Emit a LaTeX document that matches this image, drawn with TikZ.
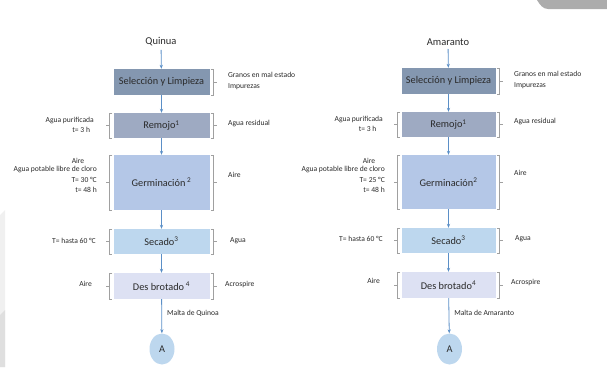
\documentclass[tikz,border=0pt]{standalone}
\usepackage{fontspec}
\setmainfont{Carlito}
\usetikzlibrary{arrows.meta,shapes.geometric,calc}
\definecolor{cA}{HTML}{8497B0}
\definecolor{cB}{HTML}{9EAAC2}
\definecolor{cC}{HTML}{B4C7E7}
\definecolor{cD}{HTML}{BDD7EE}
\definecolor{cE}{HTML}{DDE1F3}
\definecolor{arrc}{HTML}{5B8FC7}
\definecolor{brkc}{HTML}{A0A0A0}
\definecolor{txtc}{HTML}{2A2A2A}
\tikzset{
  procbox/.style={minimum width=96pt, inner sep=0pt, font=\fontsize{10.3}{12}\selectfont, text=txtc},
  ttl/.style={font=\fontsize{10.5}{12}\selectfont, text=txtc},
  side/.style={font=\fontsize{7.6}{9}\selectfont, text=txtc, inner sep=0pt},
  flow/.style={-{Stealth[length=4pt,width=3.2pt]}, draw=arrc, line width=0.8pt},
  brk/.style={draw=brkc, line width=0.5pt},
  endc/.style={ellipse, minimum width=25pt, minimum height=31pt, inner sep=0pt, fill=cD, font=\fontsize{10.3}{12}\selectfont, text=txtc}
}
\newcommand\rbrk[1]{%
  \draw[brk] ([xshift=1pt]#1.north east) -- ++(3,0) -- ([xshift=4pt]#1.south east) -- ++(-3,0);
  \draw[brk] ([xshift=4pt]#1.east) -- ++(3,0);}
\newcommand\lbrk[1]{%
  \draw[brk] ([xshift=-1pt]#1.north west) -- ++(-3,0) -- ([xshift=-4pt]#1.south west) -- ++(3,0);
  \draw[brk] ([xshift=-4pt]#1.west) -- ++(-3,0);}
\begin{document}
\begin{tikzpicture}[x=1pt,y=-1pt]
\useasboundingbox (0,0) rectangle (607,367);
% screenshot artefacts
\fill[gray!65] (537,0) .. controls (540,5) and (543,9) .. (548,9) -- (607,9) -- (607,0) -- cycle;
\fill[gray!12] (0,215) -- (5,210) -- (5,367) -- (0,367) -- cycle;
\fill[gray!25] (0,315) -- (5,310) -- (5,367) -- (0,367) -- cycle;

% ---------- Quinua ----------
\node[ttl] (t1) at (161,42) {Quinua};
\node[procbox, fill=cA, minimum height=26pt] (s1) at (161.5,82) {Selección y Limpieza};
\node[procbox, fill=cB, minimum height=25pt] (r1) at (161.5,125.5) {Remojo\textsuperscript{1}};
\node[procbox, fill=cC, minimum height=55pt] (g1) at (161.5,182.5) {Germinación\,\textsuperscript{2}};
\node[procbox, fill=cD, minimum height=25pt] (c1) at (161.5,241.5) {Secado\textsuperscript{3}};
\node[procbox, fill=cE, minimum height=26pt] (d1) at (161.5,286) {Des brotado\,\textsuperscript{4}};
\node[endc] (a1) at (162,349) {A};

\draw[flow] (t1) -- (s1);
\draw[flow] (s1) -- (r1);
\draw[flow] (r1) -- (g1);
\draw[flow] (g1) -- (c1);
\draw[flow] (c1) -- (d1);
\draw[flow] (d1) -- node[side, right=5pt, pos=0.42] (m1) {Malta de Quinoa} (a1);

\rbrk{s1} \rbrk{r1} \rbrk{g1} \rbrk{c1} \rbrk{d1}
\lbrk{r1} \lbrk{g1} \lbrk{c1} \lbrk{d1}

\node[side, anchor=west, align=left] (s1r) at (228,81) {Granos en mal estado\\[2pt]Impurezas};
\node[side, anchor=west] (r1r) at (228,124) {Agua residual};
\node[side, anchor=west] (g1r) at (228,175) {Aire};
\node[side, anchor=west] (c1r) at (230,241) {Agua};
\node[side, anchor=west] (d1r) at (225,284) {Acrospire};

\node[side, anchor=east, align=right] (r1l) at (94,125) {Agua purificada\\[1pt]t= 3 h\,\,\,};
\node[side] (g1la) at (78,161) {Aire};
\node[side, anchor=north east, align=right] (g1l) at (97,166) {Agua potable libre de cloro\\[2pt]T= 30 °C\\[1pt]t= 48 h};
\node[side, anchor=east] (c1l) at (96,241) {T= hasta 60 °C};
\node[side, anchor=east] (d1l) at (92,284) {Aire};

% ---------- Amaranto ----------
\node[ttl] (t2) at (448,42) {Amaranto};
\node[procbox, fill=cA, minimum height=26pt, minimum width=94pt] (s2) at (448.5,81) {Selección y Limpieza};
\node[procbox, fill=cB, minimum height=25pt, minimum width=94pt] (r2) at (448.5,124.5) {Remojo\textsuperscript{1}};
\node[procbox, fill=cC, minimum height=54pt, minimum width=94pt] (g2) at (448.5,182) {Germinación\textsuperscript{2}};
\node[procbox, fill=cD, minimum height=25pt, minimum width=94pt] (c2) at (448.5,240.5) {Secado\textsuperscript{3}};
\node[procbox, fill=cE, minimum height=26pt, minimum width=94pt] (d2) at (448.5,285) {Des brotado\textsuperscript{4}};
\node[endc] (a2) at (449.5,349) {A};

\draw[flow] (t2) -- (s2);
\draw[flow] (s2) -- (r2);
\draw[flow] (r2) -- (g2);
\draw[flow] (g2) -- (c2);
\draw[flow] (c2) -- (d2);
\draw[flow] (d2) -- node[side, right=5pt, pos=0.42] (m2) {Malta de Amaranto} (a2);

\rbrk{s2} \rbrk{r2} \rbrk{g2} \rbrk{c2} \rbrk{d2}
\lbrk{r2} \lbrk{g2} \lbrk{c2} \lbrk{d2}

\node[side, anchor=west, align=left] (s2r) at (514,80) {Granos en mal estado\\[2pt]Impurezas};
\node[side, anchor=west] (r2r) at (514,122) {Agua residual};
\node[side, anchor=west] (g2r) at (514,173) {Aire};
\node[side, anchor=west] (c2r) at (515,239) {Agua};
\node[side, anchor=west] (d2r) at (511,282) {Acrospire};

\node[side, anchor=east, align=right] (r2l) at (383,124) {Agua purificada\\[1pt]t= 3 h\,\,\,\,\,};
\node[side] (g2la) at (369,161) {Aire};
\node[side, anchor=north east, align=right] (g2l) at (385,166) {Agua potable libre de cloro\\[2pt]T= 25 °C\\[1pt]t= 48 h};
\node[side, anchor=east] (c2l) at (383,239) {T= hasta 60 °C};
\node[side, anchor=east] (d2l) at (380,281) {Aire};
\end{tikzpicture}
\end{document}
